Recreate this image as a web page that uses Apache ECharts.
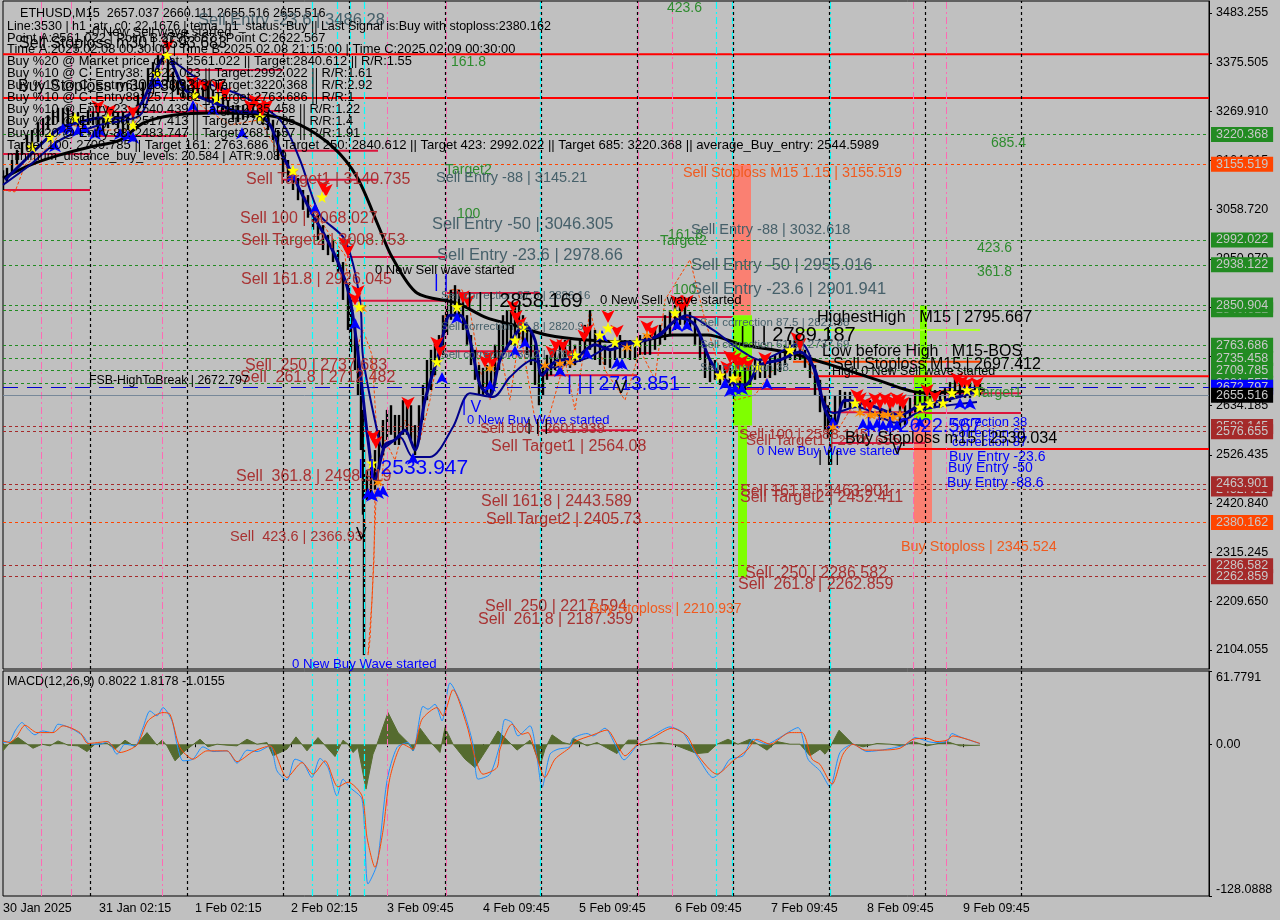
<!DOCTYPE html>
<html><head><meta charset="utf-8">
<script src="https://cdn.jsdelivr.net/npm/echarts@6/dist/echarts.min.js"></script>
<style>html,body{margin:0;padding:0;background:#C0C0C0}#c{width:1280px;height:920px}</style>
</head><body><div id="c"></div>
<script>
const FONT='"Liberation Sans"';
const dayTicks=[3,99,195,291,387,483,579,675,771,867,963];
const dayLabels=['30 Jan 2025','31 Jan 02:15','1 Feb 02:15','2 Feb 02:15','3 Feb 09:45','4 Feb 09:45','5 Feb 09:45','6 Feb 09:45','7 Feb 09:45','8 Feb 09:45','9 Feb 09:45'];
const priceTicks=[3483.255,3375.505,3269.91,3164.315,3058.72,2950.97,2845.375,2739.78,2634.185,2526.435,2420.84,2315.245,2209.65,2104.055];
const macdTicks=[-128.0888,0,61.7791];
const blackVLines=[90,187,283,349,445,541,637,733,829,925,1021];
const cyanVLines=[312,337,350,364,540,716,732,830];
const pinkVLines=[41,71,162,387,446,638,672,913,946];
// [bar, high, low]
const priceBars=[[3,3143,3100],[7,3148,3117],[12,3165,3133],[17,3187,3154],[22,3204,3176],[27,3219,3187],[32,3230,3197],[38,3247,3204],[43,3256,3219],[48,3262,3230],[53,3273,3241],[58,3278,3247],[63,3278,3241],[68,3278,3234],[73,3269,3241],[78,3269,3230],[83,3262,3230],[88,3273,3241],[93,3269,3241],[98,3269,3230],[103,3262,3226],[108,3269,3234],[113,3273,3241],[118,3269,3234],[123,3269,3219],[128,3262,3230],[133,3278,3241],[138,3306,3262],[143,3334,3284],[148,3364,3317],[153,3377,3334],[158,3392,3356],[163,3407,3371],[168,3386,3334],[173,3356,3312],[178,3338,3306],[183,3334,3299],[188,3327,3295],[193,3327,3295],[198,3327,3299],[203,3327,3295],[208,3327,3291],[213,3317,3284],[218,3312,3278],[223,3306,3273],[228,3295,3262],[233,3284,3252],[238,3284,3247],[243,3284,3252],[248,3288,3256],[253,3284,3256],[258,3284,3252],[263,3278,3241],[268,3269,3230],[273,3252,3208],[278,3230,3165],[283,3187,3133],[288,3165,3117],[293,3143,3100],[298,3126,3078],[303,3100,3057],[308,3089,3040],[313,3061,3014],[318,3046,2992],[323,3024,2970],[328,3003,2959],[333,2992,2944],[338,2970,2923],[343,2944,2862],[348,2894,2797],[351,2862,2749],[355,2819,2710],[358,2765,2656],[361,2710,2537],[363,2624,2397],[364,2537,2093],[367,2494,2429],[371,2515,2440],[375,2537,2451],[379,2580,2494],[383,2602,2526],[387,2624,2559],[391,2634,2570],[395,2613,2548],[399,2613,2548],[403,2645,2570],[407,2634,2570],[411,2634,2559],[415,2591,2526],[419,2634,2559],[423,2678,2602],[427,2732,2645],[431,2754,2667],[435,2775,2699],[439,2786,2721],[443,2829,2743],[447,2866,2786],[451,2884,2819],[455,2894,2829],[459,2884,2819],[463,2873,2797],[467,2829,2765],[471,2786,2721],[475,2754,2689],[479,2721,2656],[483,2715,2656],[487,2721,2656],[491,2710,2656],[495,2765,2678],[499,2808,2710],[503,2829,2743],[507,2840,2754],[511,2840,2765],[515,2851,2765],[519,2851,2775],[523,2829,2765],[527,2808,2743],[531,2797,2721],[535,2765,2678],[539,2732,2634],[543,2721,2656],[547,2743,2689],[551,2754,2699],[555,2754,2710],[560,2765,2710],[565,2775,2721],[570,2775,2715],[575,2765,2721],[580,2775,2728],[585,2808,2743],[590,2840,2754],[595,2797,2732],[600,2775,2721],[605,2765,2721],[610,2754,2715],[615,2775,2732],[620,2786,2736],[625,2775,2736],[630,2775,2732],[635,2775,2732],[640,2786,2743],[645,2786,2743],[650,2786,2743],[655,2801,2754],[660,2808,2765],[665,2829,2775],[670,2840,2786],[675,2851,2797],[680,2851,2808],[685,2851,2808],[690,2836,2797],[695,2823,2765],[700,2786,2732],[705,2754,2693],[710,2732,2684],[715,2732,2689],[720,2721,2678],[725,2721,2678],[730,2715,2667],[735,2710,2663],[740,2706,2663],[745,2715,2667],[750,2721,2678],[755,2736,2689],[760,2732,2693],[765,2736,2693],[770,2736,2693],[775,2743,2699],[780,2754,2706],[785,2765,2721],[790,2775,2732],[795,2780,2732],[800,2775,2732],[805,2754,2715],[810,2743,2693],[815,2721,2656],[820,2689,2619],[825,2656,2580],[828,2634,2563],[831,2613,2505],[835,2656,2591],[840,2667,2619],[845,2663,2628],[850,2663,2628],[860,2650,2613],[870,2645,2606],[880,2641,2602],[890,2634,2598],[900,2634,2585],[905,2634,2591],[910,2650,2606],[915,2663,2619],[920,2667,2619],[925,2671,2624],[930,2671,2628],[935,2667,2628],[940,2667,2628],[945,2671,2632],[950,2684,2641],[955,2693,2650],[960,2693,2650],[965,2689,2650],[970,2684,2650],[975,2684,2654],[980,2680,2654]];
const blackAverage=[[3,3126],[30,3154],[60,3176],[90,3193],[120,3208],[143,3245],[173,3262],[213,3267],[267,3262],[300,3241],[333,3193],[357,3128],[380,3014],[392,2955],[417,2877],[457,2855],[487,2823],[513,2808],[547,2786],[587,2775],[633,2771],[673,2786],[707,2786],[743,2765],[790,2747],[837,2717],[877,2689],[923,2661],[985,2667]];
const fastBlue=[[5,3122],[20,3154],[40,3197],[60,3234],[80,3247],[100,3256],[120,3256],[140,3284],[150,3327],[160,3377],[167,3392],[175,3360],[185,3317],[200,3301],[220,3284],[240,3269],[255,3269],[270,3241],[280,3187],[295,3122],[310,3057],[330,2981],[345,2905],[352,2840],[360,2710],[368,2559],[375,2472],[385,2548],[395,2559],[405,2580],[415,2537],[425,2645],[440,2754],[450,2829],[460,2829],[470,2775],[480,2678],[490,2656],[500,2732],[515,2786],[525,2808],[535,2775],[542,2699],[555,2728],[575,2736],[595,2765],[610,2754],[625,2765],[645,2775],[660,2786],[680,2823],[695,2808],[710,2732],[725,2689],[745,2678],[760,2721],[780,2732],[800,2749],[815,2710],[825,2624],[835,2591],[845,2645],[870,2634],[900,2613],[920,2634],[945,2645],[965,2656],[980,2667]];
const slowBlue=[[3,3111],[30,3154],[60,3208],[100,3241],[140,3262],[152,3325],[165,3386],[200,3338],[240,3306],[280,3252],[300,3165],[320,3046],[345,2992],[360,2862],[363,2738],[377,2580],[383,2541],[400,2565],[413,2522],[430,2522],[453,2587],[470,2660],[493,2652],[510,2695],[533,2732],[547,2715],[587,2736],[613,2765],[653,2780],[687,2829],[713,2797],[740,2754],[760,2732],[800,2769],[823,2645],[833,2617],[857,2630],[897,2596],[923,2624],[977,2641]];
const orangeZigzag=[[3,3100],[15,3096],[25,3154],[45,3187],[70,3241],[100,3230],[130,3230],[150,3295],[165,3381],[180,3306],[200,3284],[230,3241],[260,3252],[285,3154],[310,3068],[330,3003],[345,2959],[350,2862],[358,2765],[363,2797],[372,2743],[376,2602],[374,2299],[370,2126],[368,2093],[372,2212],[376,2429],[382,2472],[385,2559],[395,2515],[405,2602],[420,2559],[430,2645],[440,2765],[450,2884],[462,2884],[470,2840],[480,2710],[490,2645],[500,2754],[510,2645],[520,2797],[535,2602],[548,2602],[565,2732],[575,2624],[590,2840],[605,2710],[625,2645],[640,2754],[655,2689],[665,2862],[690,2949],[705,2819],[720,2710],[735,2645],[755,2656],[780,2732],[800,2765],[815,2689],[825,2645],[835,2570],[850,2624],[880,2602],[915,2602],[930,2656],[960,2678],[985,2656]];
const sellArrows=[[98,3267],[110,3258],[133,3256],[168,3399],[192,3320],[197,3312],[205,3312],[218,3310],[225,3295],[250,3269],[255,3280],[260,3267],[262,3258],[267,3269],[323,3094],[326,3085],[345,2970],[348,2955],[358,2866],[355,2850],[373,2552],[376,2540],[408,2624],[437,2754],[440,2738],[463,2855],[468,2845],[488,2725],[485,2715],[492,2712],[513,2834],[520,2797],[516,2812],[552,2735],[556,2750],[563,2749],[570,2730],[587,2782],[584,2770],[608,2812],[617,2780],[647,2790],[652,2780],[677,2845],[687,2845],[682,2835],[727,2702],[730,2725],[735,2721],[738,2710],[742,2715],[748,2708],[765,2721],[797,2765],[800,2752],[857,2641],[860,2634],[865,2624],[870,2619],[875,2634],[880,2624],[885,2634],[890,2624],[893,2628],[897,2634],[900,2630],[903,2624],[927,2652],[935,2639],[957,2678],[962,2671],[967,2667],[977,2667]];
const buyArrows=[[55,3208],[63,3245],[70,3245],[78,3241],[85,3245],[95,3234],[100,3241],[120,3234],[128,3230],[133,3226],[158,3345],[193,3295],[213,3288],[242,3236],[292,3143],[315,3072],[355,2823],[368,2455],[372,2451],[378,2457],[383,2461],[413,2531],[442,2706],[457,2836],[490,2689],[515,2764],[525,2782],[560,2721],[587,2758],[602,2797],[617,2738],[622,2736],[677,2819],[687,2819],[725,2693],[735,2682],[730,2678],[742,2682],[767,2693],[833,2609],[863,2606],[870,2602],[877,2606],[883,2602],[890,2606],[897,2602],[920,2609],[960,2650],[970,2650]];
const yellowStars=[[32,3193],[50,3215],[75,3256],[108,3256],[133,3241],[157,3353],[167,3392],[195,3306],[217,3299],[260,3258],[293,3143],[322,3085],[359,2847],[372,2509],[437,2728],[457,2847],[515,2775],[523,2803],[575,2743],[600,2786],[608,2801],[615,2771],[637,2771],[675,2834],[720,2699],[733,2693],[758,2717],[790,2754],[855,2639],[920,2630],[930,2639],[943,2639],[952,2661],[967,2667],[977,2663]];
const orangeStars=[[293,3139],[362,2845],[378,2468],[490,2715],[545,2721],[560,2725],[570,2728],[627,2760],[647,2786],[720,2699],[738,2693],[833,2587],[860,2618],[870,2613],[875,2615],[883,2613],[888,2615],[893,2609],[900,2615]];
const crimsonSegments=[[3,90,3178],[3,90,3100],[90,187,3269],[90,187,3217],[187,283,3360],[187,283,3271],[283,378,3185],[283,378,3122],[347,445,2955],[347,445,2860],[445,541,2877],[445,541,2751],[541,637,2699],[541,637,2580],[637,733,2825],[637,733,2747],[733,829,2669],[829,925,2619],[829,925,2552],[925,1021,2617],[925,1021,2660]];
const redSegments=[[3,1209,3394],[3,1209,3299],[817,1209,2697],[897,1209,2539]];
const orangeSegments=[[793,980,2728]];
const limeSegments=[[797,980,2797]];
// [left bar, right bar, top price, bottom price, colour]
const zones=[[733,751,3155,2829,'#FA8072'],[733,752,2829,2590,'#7FFF00'],[738,747,2590,2262,'#7FFF00'],[920,927,2850,2700,'#7FFF00'],[914,932,2700,2602,'#7FFF00'],[914,932,2602,2380,'#FA8072']];
const levels=[[3220.368,'#228B22'],[3155.519,'#FF4500'],[2992.022,'#228B22'],[2938.122,'#228B22'],[2840.612,'#228B22'],[2850.904,'#228B22'],[2763.686,'#228B22'],[2735.458,'#228B22'],[2709.785,'#228B22'],[2681.557,'#228B22'],[2588.145,'#A52A2A'],[2576.655,'#A52A2A'],[2452.411,'#A52A2A'],[2463.901,'#A52A2A'],[2380.162,'#FF4500'],[2286.582,'#A52A2A'],[2262.859,'#A52A2A']];
const fsbLevel=2672.797, bidLevel=2655.516;
const GREEN='#2E8B2E',BROWN='#A83232',SLATE='#46606A',BLUE='#0000FF',BLACK='#000000',ORANGE='#F05A1E';
// [bar, price, text, colour, size]
const mainTexts=[
[20,3483,'ETHUSD,M15  2657.037 2660.111 2655.516 2655.516',BLACK,12.6],
[198,3468,'Sell Entry -23.6 | 3486.28',SLATE,16.6],
[7,3455,'Line:3530 | h1_atr_c0: 22.1676 | tema_h1_status: Buy || Last Signal is:Buy with stoploss:2380.162',BLACK,12.5],
[92,3442,'0 New Sell wave started',BLACK,13],
[7,3429,'Point A:2561.022 | Point B:2795.667 | Point C:2622.567',BLACK,12.9],
[19,3418,'Sell Stoploss m30 | 3593.683',BLACK,16],
[7,3405,'Time A:2025.02.08 00:30:00 | Time B:2025.02.08 21:15:00 | Time C:2025.02.09 00:30:00',BLACK,12.9],
[7,3379,'Buy %20 @ Market price or at: 2561.022 || Target:2840.612 || R/R:1.55',BLACK,12.9],
[7,3353,'Buy %10 @ C_Entry38: 2622.023 || Target:2992.022 || R/R:1.61',BLACK,12.9],
[18,3323,'Buy Stoploss m30 | 3033.307',BLACK,16],
[7,3327,'Buy %10 @ C_Entry61: 2593.921 || Target:3220.368 || R/R:2.92',BLACK,12.9],
[7,3301,'Buy %10 @ C_Entry88: 2571.932 || Target:2763.686 || R/R:1',BLACK,12.9],
[7,3275,'Buy %10 @ Entry-23: 2540.439 || Target:2735.458 || R/R:1.22',BLACK,12.9],
[7,3249,'Buy %20 @ Entry-50: 2517.413 || Target:2709.785 || R/R:1.4',BLACK,12.9],
[7,3223,'Buy %20 @ Entry-88: 2483.747 || Target:2681.557 || R/R:1.91',BLACK,12.9],
[7,3197,'Target 100: 2709.785 || Target 161: 2763.686 || Target 250: 2840.612 || Target 423: 2992.022 || Target 685: 3220.368 || average_Buy_entry: 2544.5989',BLACK,13.1],
[7,3172,'minimum_distance_buy_levels: 20.584 | ATR:9.089',BLACK,12.3],
[667,3494,'423.6',GREEN,14],[451,3377,'161.8',GREEN,14],[991,3202,'685.4',GREEN,14],
[445,3143,'Target2',GREEN,14],[436,3126,'Sell Entry -88 | 3145.21',SLATE,14.5],
[683,3137,'Sell Stoploss M15 1.15 | 3155.519',ORANGE,14.4],
[246,3122,'Sell Target1 | 3140.735',BROWN,16],[240,3039,'Sell 100 | 3068.027',BROWN,16],
[241,2990,'Sell Target2 | 3008.753',BROWN,16],[241,2907,'Sell 161.8 | 2926.045',BROWN,16],
[245,2719,'Sell  250 | 2737.683',BROWN,16],[240,2693,'Sell  261.8 | 2712.482',BROWN,16],
[236,2479,'Sell  361.8 | 2498.919',BROWN,16],[230,2349,'Sell  423.6 | 2366.93',BROWN,14.5],
[89,2687,'FSB-HighToBreak | 2672.797',BLACK,12.3],
[457,3048,'100',GREEN,14],[432,3026,'Sell Entry -50 | 3046.305',SLATE,16.5],[437,2959,'Sell Entry -23.6 | 2978.66',SLATE,16.5],
[375,2925,'0 New Sell wave started',BLACK,13],
[668,3003,'161.8',GREEN,14],[660,2990,'Target2',GREEN,14],[691,3014,'Sell Entry -88 | 3032.618',SLATE,14.5],
[691,2936,'Sell Entry -50 | 2955.016',SLATE,16.5],[691,2884,'Sell Entry -23.6 | 2901.941',SLATE,16.5],[673,2884,'100',GREEN,14],
[977,2975,'423.6',GREEN,14],[977,2923,'361.8',GREEN,14],
[441,2871,'Sell correction 87.5 | 2886.16',SLATE,11.5],[467,2858,'| | | 2858.169',BLACK,20],
[434,2901,'| |',BLUE,18],[600,2862,'0 New Sell wave started',BLACK,13.2],
[441,2803,'Sell correction 61.8 | 2820.9',SLATE,11.5],[441,2743,'Sell correction 38.2 | 2784',SLATE,11.5],
[462,2628,'| V',BLUE,16],[467,2602,'0 New Buy Wave started',BLUE,13],
[567,2678,'| | | 2713.851',BLUE,19.5],[615,2671,'V',BLACK,18],
[480,2583,'Sell 100 | 2601.939',BROWN,14.5],[527,2587,'| | |',BLACK,16],
[491,2544,'Sell Target1 | 2564.08',BROWN,16],[481,2425,'Sell 161.8 | 2443.589',BROWN,16],
[486,2386,'Sell Target2 | 2405.73',BROWN,16],[485,2199,'Sell  250 | 2217.594',BROWN,16],
[478,2169,'Sell  261.8 | 2187.359',BROWN,16],[590,2193,'Buy Stoploss | 2210.937',ORANGE,14],
[292,2072,'0 New Buy Wave started',BLUE,13.2],[358,2498,'| | 2533.947',BLUE,21],[356,2353,'V',BLACK,16],
[700,2812,'Sell correction 87.5 | 2821.38',SLATE,11.5],[740,2786,'| | | 2789.187',BLACK,20],
[817,2823,'HighestHigh   M15 | 2795.667',BLACK,16.3],[822,2751,'Low before High   M15-BOS',BLACK,16],
[833,2721,'Sell Stoploss M15 | 2697.412',BLACK,16],[832,2706,'High 0 New Sell wave started',BLACK,12.5],
[700,2765,'Sell correction 61.8 | 2737.69',SLATE,11.5],[700,2715,'Sell correction 38',SLATE,11.5],
[975,2661,'Target1',GREEN,14],
[739,2570,'Sell 100 | 2588.145',BROWN,15],[746,2557,'Sell Target1 | 2576.655',BROWN,15],
[757,2535,'0 New Buy Wave started',BLUE,13],[740,2448,'Sell 161.8 | 2463.901',BROWN,16],
[740,2433,'Sell Target2 | 2452.411',BROWN,16],[745,2269,'Sell  250 | 2286.582',BROWN,16],
[738,2245,'Sell  261.8 | 2262.859',BROWN,16],
[866,2587,'| | | 2622.567',BLUE,20],[952,2596,'correction 38',BLUE,13],[952,2574,'correction 61',BLUE,13],[952,2554,'correction 87',BLUE,13],
[845,2563,'Buy Stoploss m15 | 2539.034',BLACK,16.3],
[949,2522,'Buy Entry -23.6',BLUE,14],[948,2498,'Buy Entry -50',BLUE,14],[947,2466,'Buy Entry -88.6',BLUE,14],
[901,2327,'Buy Stoploss | 2345.524',ORANGE,14.4],[818,2520,'| | |',BLACK,16],[892,2537,'V',BLACK,16]
];
const macdTexts=[[7,53,'MACD(12,26,9) 0.8022 1.8178 -1.0155',BLACK,12.6]];
const macdLine=[[3,1.4],[10,2.8],[15,11.2],[22,18.3],[28,12.6],[35,7.9],[42,11.2],[52,9.8],[58,16.9],[65,15.5],[73,12.6],[83,7],[90,0],[100,0],[108,2.2],[117,-8.4],[125,0],[135,-1.4],[143,14],[150,28.1],[157,23.9],[163,30.9],[172,19.7],[177,0],[183,-14],[193,-12.6],[203,-2.2],[213,-6.2],[227,-5.6],[237,-16],[247,-5],[257,-6.2],[270,-1.4],[277,-22.5],[287,-30.3],[295,-12.6],[303,-15.5],[312,-28.1],[320,-12],[328,-19.7],[337,-43.6],[343,-29.5],[350,-36.5],[362,-46.4],[368,-118],[377,-101.2],[387,-30.9],[397,-2.8],[408,1.4],[413,-5.6],[423,32],[428,29.5],[435,33.7],[442,19.7],[450,51.7],[462,32],[473,0],[478,-29.5],[490,-25.3],[500,0],[505,21],[512,18.3],[518,7],[530,15.5],[537,-11.2],[542,-36.5],[550,-8.4],[558,-4.2],[570,-2.2],[573,5],[587,9],[593,7],[605,13.5],[615,0],[624,-13.2],[637,-1.4],[647,4.2],[655,8.4],[670,14.6],[683,9.8],[690,0],[700,-14],[713,-28.1],[722,-22.5],[730,-12.6],[743,-9.8],[753,4.2],[767,0],[777,4.2],[798,14],[808,-12.6],[820,-22.5],[830,-36],[840,-7],[853,0],[867,-6.2],[887,-4.2],[907,0],[915,5.6],[933,1.4],[947,2.2],[952,9],[960,6.2],[980,0.5]];
const signalLine=[[3,2.8],[10,1.4],[17,7],[25,16],[37,9.8],[53,9.8],[63,15.5],[80,9.8],[88,0.6],[107,2.2],[120,-7],[137,-0.6],[148,19.7],[163,26.7],[170,25.3],[180,-2.8],[193,-12.6],[207,-5.6],[227,-5.6],[237,-14.7],[253,-6.2],[270,-1.4],[287,-28.1],[302,-15.5],[313,-25.3],[325,-14],[338,-36],[348,-32],[362,-43.6],[367,-78.7],[375,-103.9],[383,-73],[390,-28],[403,0],[413,-4.2],[422,21],[437,30.9],[443,23.9],[453,46],[467,15.5],[475,-11.2],[483,-25.3],[497,-19.7],[500,-4.2],[512,16.9],[522,8.4],[528,9.8],[535,-5.6],[545,-28],[555,-12.6],[570,-2.8],[575,2.2],[593,7.9],[607,12],[617,0],[625,-9.8],[637,-0.6],[653,5.6],[672,13.5],[687,7],[697,-8.4],[717,-25.3],[733,-14],[747,-5],[757,4.2],[770,0],[790,9.8],[802,9.8],[812,-12.6],[820,-17],[832,-33.7],[843,-8.4],[853,0],[865,-5],[880,-5],[900,-3.4],[913,4.2],[927,5],[937,2.2],[947,3.4],[953,7],[967,4.2],[980,0.6]];
const macdHistogram=[[3,-5.6],[10,1.4],[18,5.6],[25,1.4],[33,-3.4],[42,0],[50,-1.4],[58,2.8],[68,-0.8],[78,-1.4],[87,-6.2],[95,0],[107,0.8],[115,-4.2],[125,3.4],[135,-2.2],[147,9.8],[157,-0.8],[162,3.4],[167,-1.4],[175,-14],[185,-5.6],[200,4.2],[208,-2.2],[217,0],[227,-0.8],[237,-1.4],[247,4.2],[257,0],[267,1.4],[273,-9.8],[287,-4.2],[296,6.2],[307,-5.6],[318,5.6],[335,-10.4],[343,3.4],[348,0],[353,-7],[358,-2.8],[366,-37.9],[373,-8.4],[377,0],[388,26.7],[398,9.8],[408,1.4],[413,-5.6],[420,13.5],[430,2.2],[440,-7],[445,14],[453,0],[465,-12.6],[475,-19.7],[490,0],[498,11.2],[500,9.8],[508,2.8],[517,-5],[530,3.4],[533,-1.4],[540,-18.3],[545,-4.2],[552,7.9],[563,1.4],[570,0],[573,5],[587,-1.4],[597,1.4],[617,-7.9],[628,3.4],[637,3.4],[640,-0.8],[660,1.4],[673,0],[697,-7.9],[708,-7],[717,0],[728,4.2],[738,0],[750,4.2],[767,-5],[777,2.2],[790,0],[800,0],[810,-9.8],[820,-4.2],[825,-8.4],[830,-2.8],[839,11.8],[853,0],[863,-2.2],[877,0.6],[890,0],[903,-1.4],[913,2.2],[927,-1.4],[947,2.2],[960,-1.4],[980,-0.8]];

const priceMax=3483.255+12*2.1652, priceMin=2104.055-19*2.1652;
function vlines(gi){
  const mk=(a,c,t,w)=>a.map(x=>({xAxis:x,lineStyle:{color:c,type:t,width:w}}));
  return {type:'line',xAxisIndex:gi,yAxisIndex:gi,data:[],silent:true,
    markLine:{silent:true,symbol:'none',label:{show:false},animation:false,precision:4,
      data:[...mk(pinkVLines,'#FF69B4',[7,3,2,3],1),...mk(cyanVLines,'#00FFFF',[7,3,2,3],1.2),...mk(blackVLines,'#000',[3,3],1.2)]}};
}
function segs(list,color,w,zv){
  return {type:'custom',xAxisIndex:0,yAxisIndex:0,silent:true,z:zv||3,data:list,encode:{x:[0,1],y:2},clip:true,
    renderItem:(p,api)=>{const a=api.coord([api.value(0),api.value(2)]),b=api.coord([api.value(1),api.value(2)]);
      return {type:'line',shape:{x1:a[0],y1:a[1],x2:b[0],y2:b[1]},style:{stroke:color,lineWidth:w}};}};
}
function texts(list,gi){
  return {type:'custom',xAxisIndex:gi,yAxisIndex:gi,silent:true,z:9,clip:false,data:list.map(t=>[t[0],t[1]]),encode:{x:0,y:1},
    renderItem:(p,api)=>{const t=list[p.dataIndex],c=api.coord([t[0],t[1]]);
      return {type:'text',style:{x:c[0],y:c[1],text:t[2],fill:t[3],font:t[4]+'px '+FONT,verticalAlign:'middle',align:'left'}};}};
}
const tagLabel=(bg,v)=>({show:true,position:'end',distance:2,formatter:v.toFixed(3),backgroundColor:bg,color:'#C8C8C8',fontFamily:FONT,fontSize:12.5,padding:[1,5,1,5]});
const levelLines={type:'line',xAxisIndex:0,yAxisIndex:0,data:[],silent:true,z:2,
  markLine:{silent:true,symbol:'none',animation:false,precision:4,
    data:[...levels.map(l=>({yAxis:l[0],lineStyle:{color:l[1],type:[3,3],width:1},label:tagLabel(l[1],l[0])})),
      {yAxis:fsbLevel,lineStyle:{color:'#0000CD',type:[15,9],width:1},label:tagLabel('#0000FF',fsbLevel)},
      {yAxis:bidLevel,lineStyle:{color:'#778899',type:'solid',width:1},label:tagLabel('#000000',bidLevel)}]}};
const markers=(d,sym,color,w,h,rot,z)=>({type:'scatter',xAxisIndex:0,yAxisIndex:0,silent:true,z:z,data:d,symbol:sym,symbolSize:[w,h],symbolRotate:rot,itemStyle:{color:color,opacity:1}});
const lineS=(d,color,w,opts)=>Object.assign({type:'line',xAxisIndex:0,yAxisIndex:0,data:d,showSymbol:false,symbol:'none',silent:true,lineStyle:{color:color,width:w},z:4},opts||{});
const ax2=(gi,show)=>({type:'value',gridIndex:gi,min:3,max:1209,splitLine:{show:false},axisLine:{show:false},
  axisTick:{show:show,length:3,lineStyle:{color:'#000'},customValues:dayTicks},
  axisLabel:{show:show,color:'#000',fontFamily:FONT,fontSize:12.5,margin:6,align:'left',customValues:dayTicks,
    formatter:v=>dayLabels[dayTicks.indexOf(v)]||''}});
const option={animation:false,backgroundColor:'#C0C0C0',
 grid:[{left:3,right:71,top:1,height:668,show:true,backgroundColor:'#C0C0C0',borderColor:'#000',borderWidth:1},
       {left:3,right:71,top:671,height:225,show:true,backgroundColor:'#C0C0C0',borderColor:'#000',borderWidth:1}],
 xAxis:[ax2(0,false),ax2(1,true)],
 yAxis:[{type:'value',gridIndex:0,position:'right',min:priceMin,max:priceMax,splitLine:{show:false},
   axisLine:{show:true,lineStyle:{color:'#000'}},axisTick:{show:true,length:3,lineStyle:{color:'#000'},customValues:priceTicks},
   axisLabel:{color:'#000',fontFamily:FONT,fontSize:12.5,margin:7,customValues:priceTicks,formatter:v=>v.toFixed(3)}},
  {type:'value',gridIndex:1,position:'right',min:macdTicks[0],max:macdTicks[2],splitLine:{show:false},
   axisLine:{show:true,lineStyle:{color:'#000'}},axisTick:{show:true,length:3,lineStyle:{color:'#000'},customValues:macdTicks},
   axisLabel:{color:'#000',fontFamily:FONT,fontSize:12.5,margin:7,customValues:macdTicks,verticalAlignMinLabel:'bottom',verticalAlignMaxLabel:'top',
     formatter:v=>v===0?'0.00':v.toFixed(4)}}],
 series:[
  {type:'custom',xAxisIndex:0,yAxisIndex:0,silent:true,z:1,clip:true,data:zones.map(z=>z.slice(0,4)),encode:{x:[0,1],y:[2,3]},
   renderItem:(p,api)=>{const z=zones[p.dataIndex],a=api.coord([z[0],z[2]]),b=api.coord([z[1],z[3]]);
     return {type:'rect',shape:{x:a[0],y:a[1],width:b[0]-a[0],height:b[1]-a[1]},style:{fill:z[4]}};}},
  vlines(0),vlines(1),levelLines,
  lineS(orangeZigzag,'#FF4500',1,{lineStyle:{color:'#FF4500',width:1,type:[3,2]},z:3}),
  segs(crimsonSegments,'#DC143C',2),segs(redSegments,'#FF0000',2),segs(orangeSegments,'#FF4500',2),segs(limeSegments,'#ADFF2F',2),
  {type:'custom',xAxisIndex:0,yAxisIndex:0,silent:true,z:4,clip:true,data:priceBars,encode:{x:0,y:[1,2]},
   renderItem:(p,api)=>{const a=api.coord([api.value(0),api.value(1)]),b=api.coord([api.value(0),api.value(2)]);
     return {type:'line',shape:{x1:a[0],y1:a[1],x2:b[0],y2:b[1]},style:{stroke:'#000',lineWidth:2.4}};}},
  lineS(blackAverage,'#000',3,{smooth:0.3,z:5}),
  lineS(slowBlue,'#00008B',2,{smooth:0.3,z:5}),
  lineS(fastBlue,'#00008B',3,{smooth:0.3,z:5}),
  markers(buyArrows,'arrow','#0000FF',9,12,0,6),
  markers(sellArrows,'arrow','#FF0000',10,13,180,6),
  markers(orangeStars,'path://M5 0 L6 4 L10 3 L7 5.5 L10 9 L5.8 7 L5 10 L4.2 7 L0 9 L3 5.5 L0 3 L4 4 Z','#FF8C00',11,11,0,7),
  markers(yellowStars,'path://M5 0 L6.2 3.6 L10 3.6 L7 5.9 L8.1 9.6 L5 7.4 L1.9 9.6 L3 5.9 L0 3.6 L3.8 3.6 Z','#FFFF00',12,12,0,7),
  texts(mainTexts,0),
  {type:'line',xAxisIndex:1,yAxisIndex:1,data:macdHistogram,symbol:'none',silent:true,z:3,lineStyle:{color:'#556B2F',width:1},areaStyle:{color:'#556B2F',opacity:1}},
  {type:'line',xAxisIndex:1,yAxisIndex:1,data:macdLine,symbol:'none',smooth:0.25,silent:true,z:4,lineStyle:{color:'#1E90FF',width:1}},
  {type:'line',xAxisIndex:1,yAxisIndex:1,data:signalLine,symbol:'none',smooth:0.25,silent:true,z:5,lineStyle:{color:'#FF4500',width:1}},
  texts(macdTexts,1)
 ]};
const chart=echarts.init(document.getElementById('c'),null,{width:1280,height:920,renderer:'canvas'});
chart.setOption(option);
</script></body></html>
